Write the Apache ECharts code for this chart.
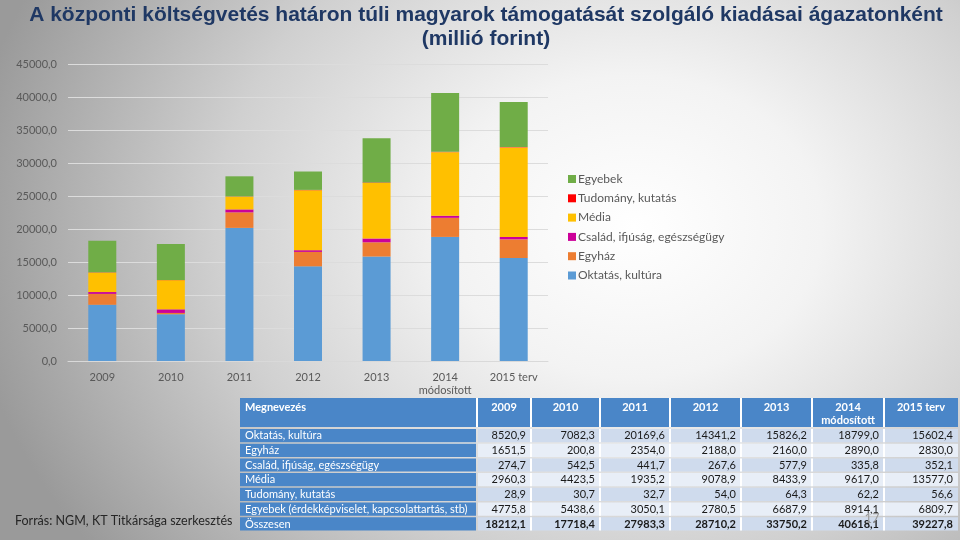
<!DOCTYPE html>
<html>
<head>
<meta charset="utf-8">
<script src="https://cdn.jsdelivr.net/npm/echarts@6/dist/echarts.min.js"></script>
<style>
  html, body { margin: 0; padding: 0; }
  #chart {
    width: 960px; height: 540px;
    background: radial-gradient(ellipse 70% 100% at 66% 42%, #ffffff 0%, #f3f3f3 28%, #d0d0d0 62%, #9a9a9a 100%);
  }
</style>
</head>
<body>
<div id="chart"></div>
<script>
const years = ['2009', '2010', '2011', '2012', '2013', '2014\nmódosított', '2015 terv'];
const oktatas = [8520.9, 7082.3, 20169.6, 14341.2, 15826.2, 18799.0, 15602.4];
const egyhaz = [1651.5, 200.8, 2354.0, 2188.0, 2160.0, 2890.0, 2830.0];
const csalad = [274.7, 542.5, 441.7, 267.6, 577.9, 335.8, 352.1];
const media = [2960.3, 4423.5, 1935.2, 9078.9, 8433.9, 9617.0, 13577.0];
const tudomany = [28.9, 30.7, 32.7, 54.0, 64.3, 62.2, 56.6];
const egyebek = [4775.8, 5438.6, 3050.1, 2780.5, 6687.9, 8914.1, 6809.7];
const osszesen = [18212.1, 17718.4, 27983.3, 28710.2, 33750.2, 40618.1, 39227.8];

const seriesNames = ['Oktatás, kultúra', 'Egyház', 'Család, ifjúság, egészségügy', 'Média', 'Tudomány, kutatás', 'Egyebek'];
const tableNames = ['Oktatás, kultúra', 'Egyház', 'Család, ifjúság, egészségügy', 'Média', 'Tudomány, kutatás', 'Egyebek (érdekképviselet, kapcsolattartás, stb)', 'Összesen'];
const colors = ['#5b9bd5', '#ed7d31', '#cc0099', '#ffc000', '#ff0000', '#70ad47'];

const fmt = v => v.toFixed(1).replace('.', ',');
const font = 'Lato, "Open Sans", sans-serif';

// table layout
const colEdges = [240, 477, 531, 600, 670, 741, 812, 884, 958];
const headTop = 398, headH = 29, rowTop = 429, rowH = 14.7;
const rows = [oktatas, egyhaz, csalad, media, tudomany, egyebek, osszesen];

const graphics = [];
graphics.push({
  type: 'text',
  style: {
    text: 'A központi költségvetés határon túli magyarok támogatását szolgáló kiadásai ágazatonként\n(millió forint)',
    x: 486, y: 3, fill: '#1f3864',
    font: 'bold 21px "Liberation Sans", Arial, sans-serif',
    textAlign: 'center', align: 'center', lineHeight: 24
  }
});
graphics.push({
  type: 'text',
  style: { text: 'Forrás: NGM, KT Titkársága szerkesztés', x: 15, y: 521, fill: '#262626',
    font: '12.5px ' + font, textVerticalAlign: 'middle', verticalAlign: 'middle' }
});

// header row
graphics.push({ type: 'rect', shape: { x: colEdges[0], y: headTop, width: colEdges[8] - colEdges[0], height: headH }, style: { fill: '#4a86c8' } });
const headers = ['Megnevezés', '2009', '2010', '2011', '2012', '2013', '2014\nmódosított', '2015 terv'];
headers.forEach((h, i) => {
  const left = i === 0;
  graphics.push({
    type: 'text',
    style: {
      text: h, x: left ? colEdges[0] + 5 : (colEdges[i] + colEdges[i + 1]) / 2, y: headTop + 3,
      fill: '#ffffff', font: 'bold 11px ' + font, lineHeight: 13,
      textAlign: left ? 'left' : 'center', align: left ? 'left' : 'center'
    }
  });
  if (i > 0) {
    graphics.push({ type: 'rect', shape: { x: colEdges[i] - 1, y: headTop, width: 2, height: headH }, style: { fill: '#ffffff' } });
  }
});

rows.forEach((r, j) => {
  const y = rowTop + j * rowH;
  graphics.push({ type: 'rect', shape: { x: colEdges[0], y: y, width: colEdges[1] - colEdges[0] - 1, height: rowH - 1.5 }, style: { fill: '#4a86c8' } });
  graphics.push({ type: 'rect', shape: { x: colEdges[1] + 1, y: y, width: colEdges[8] - colEdges[1] - 1, height: rowH - 1.5 }, style: { fill: j % 2 === 0 ? '#cfdbed' : '#e8eef7' } });
  graphics.push({
    type: 'text',
    style: { text: tableNames[j], x: colEdges[0] + 5, y: y + rowH / 2 - 0.5, fill: '#ffffff',
      font: '11px ' + font, textVerticalAlign: 'middle', verticalAlign: 'middle' }
  });
  r.forEach((v, i) => {
    graphics.push({
      type: 'text',
      style: { text: fmt(v), x: colEdges[i + 2] - 5, y: y + rowH / 2 - 0.5, fill: '#1a1a1a',
        font: (j === 6 ? 'bold ' : '') + '11px ' + font,
        textAlign: 'right', align: 'right', textVerticalAlign: 'middle', verticalAlign: 'middle' }
    });
    if (i > 0) {
      graphics.push({ type: 'rect', shape: { x: colEdges[i + 1] - 1, y: y, width: 2, height: rowH - 1.5 }, style: { fill: '#ffffff' } });
    }
  });
});
graphics.push({
  type: 'text',
  style: { text: '17', x: 872, y: 519, fill: '#9a9a9a', font: '13px ' + font,
    textAlign: 'center', align: 'center', textVerticalAlign: 'middle', verticalAlign: 'middle' }
});

const series = [oktatas, egyhaz, csalad, media, tudomany, egyebek].map((d, i) => ({
  name: seriesNames[i],
  type: 'bar',
  stack: 'total',
  data: d,
  barWidth: 28,
  itemStyle: { color: colors[i] }
}));

const chart = echarts.init(document.getElementById('chart'));
chart.setOption({
  animation: false,
  color: colors,
  grid: { left: 68, right: 412, top: 64, bottom: 179 },
  xAxis: {
    type: 'category',
    data: years,
    axisLine: { lineStyle: { color: '#d9d9d9' } },
    axisTick: { show: false },
    axisLabel: { color: '#595959', fontSize: 11, fontFamily: font, margin: 10, lineHeight: 13 }
  },
  yAxis: {
    type: 'value',
    min: 0, max: 45000, interval: 5000,
    axisLabel: { color: '#595959', fontSize: 11, fontFamily: font, margin: 11, formatter: fmt },
    splitLine: { lineStyle: { color: '#dcdcdc' } }
  },
  legend: {
    orient: 'vertical',
    left: 563, top: 168,
    itemWidth: 8, itemHeight: 8, itemGap: 7.3,
    icon: 'rect',
    data: seriesNames.slice().reverse(),
    textStyle: { color: '#595959', fontSize: 12, lineHeight: 12, fontFamily: font, padding: [0, 0, 0, -3] }
  },
  series: series,
  graphic: graphics
});
</script>
</body>
</html>
